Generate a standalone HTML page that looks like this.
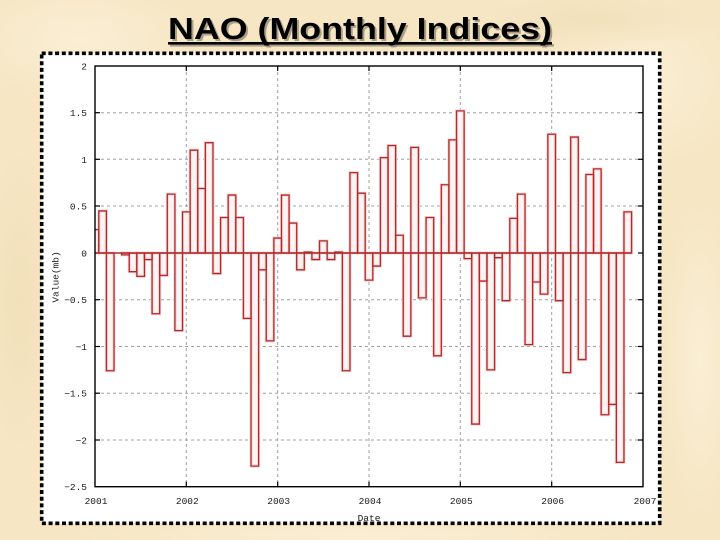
<!DOCTYPE html>
<html>
<head>
<meta charset="utf-8">
<style>
  html,body{margin:0;padding:0;}
  body{width:720px;height:540px;overflow:hidden;background:#f6e6c4;}
  svg{display:block;}
</style>
</head>
<body>
<svg width="720" height="540" viewBox="0 0 720 540" xmlns="http://www.w3.org/2000/svg" xmlns:xlink="http://www.w3.org/1999/xlink">
  <defs>
    <radialGradient id="b1" cx="0.5" cy="0.5" r="0.5">
      <stop offset="0" stop-color="#fbf0d8" stop-opacity="0.8"/>
      <stop offset="1" stop-color="#fbf0d8" stop-opacity="0"/>
    </radialGradient>
    <radialGradient id="b2" cx="0.5" cy="0.5" r="0.5">
      <stop offset="0" stop-color="#eedcb2" stop-opacity="0.6"/>
      <stop offset="1" stop-color="#eedcb2" stop-opacity="0"/>
    </radialGradient>
    <clipPath id="plotclip">
      <rect x="95" y="66" width="548" height="420.7"/>
    </clipPath>
    <g id="bars">
      <rect vector-effect="non-scaling-stroke" x="0" y="0" width="1" height="0.25"/>
      <rect vector-effect="non-scaling-stroke" x="1" y="0" width="1" height="0.45"/>
      <rect vector-effect="non-scaling-stroke" x="2" y="-1.26" width="1" height="1.26"/>
      <rect vector-effect="non-scaling-stroke" x="4" y="-0.02" width="1" height="0.02"/>
      <rect vector-effect="non-scaling-stroke" x="5" y="-0.20" width="1" height="0.20"/>
      <rect vector-effect="non-scaling-stroke" x="6" y="-0.25" width="1" height="0.25"/>
      <rect vector-effect="non-scaling-stroke" x="7" y="-0.07" width="1" height="0.07"/>
      <rect vector-effect="non-scaling-stroke" x="8" y="-0.65" width="1" height="0.65"/>
      <rect vector-effect="non-scaling-stroke" x="9" y="-0.24" width="1" height="0.24"/>
      <rect vector-effect="non-scaling-stroke" x="10" y="0" width="1" height="0.63"/>
      <rect vector-effect="non-scaling-stroke" x="11" y="-0.83" width="1" height="0.83"/>
      <rect vector-effect="non-scaling-stroke" x="12" y="0" width="1" height="0.44"/>
      <rect vector-effect="non-scaling-stroke" x="13" y="0" width="1" height="1.10"/>
      <rect vector-effect="non-scaling-stroke" x="14" y="0" width="1" height="0.69"/>
      <rect vector-effect="non-scaling-stroke" x="15" y="0" width="1" height="1.18"/>
      <rect vector-effect="non-scaling-stroke" x="16" y="-0.22" width="1" height="0.22"/>
      <rect vector-effect="non-scaling-stroke" x="17" y="0" width="1" height="0.38"/>
      <rect vector-effect="non-scaling-stroke" x="18" y="0" width="1" height="0.62"/>
      <rect vector-effect="non-scaling-stroke" x="19" y="0" width="1" height="0.38"/>
      <rect vector-effect="non-scaling-stroke" x="20" y="-0.70" width="1" height="0.70"/>
      <rect vector-effect="non-scaling-stroke" x="21" y="-2.28" width="1" height="2.28"/>
      <rect vector-effect="non-scaling-stroke" x="22" y="-0.18" width="1" height="0.18"/>
      <rect vector-effect="non-scaling-stroke" x="23" y="-0.94" width="1" height="0.94"/>
      <rect vector-effect="non-scaling-stroke" x="24" y="0" width="1" height="0.16"/>
      <rect vector-effect="non-scaling-stroke" x="25" y="0" width="1" height="0.62"/>
      <rect vector-effect="non-scaling-stroke" x="26" y="0" width="1" height="0.32"/>
      <rect vector-effect="non-scaling-stroke" x="27" y="-0.18" width="1" height="0.18"/>
      <rect vector-effect="non-scaling-stroke" x="28" y="0" width="1" height="0.01"/>
      <rect vector-effect="non-scaling-stroke" x="29" y="-0.07" width="1" height="0.07"/>
      <rect vector-effect="non-scaling-stroke" x="30" y="0" width="1" height="0.13"/>
      <rect vector-effect="non-scaling-stroke" x="31" y="-0.07" width="1" height="0.07"/>
      <rect vector-effect="non-scaling-stroke" x="32" y="0" width="1" height="0.01"/>
      <rect vector-effect="non-scaling-stroke" x="33" y="-1.26" width="1" height="1.26"/>
      <rect vector-effect="non-scaling-stroke" x="34" y="0" width="1" height="0.86"/>
      <rect vector-effect="non-scaling-stroke" x="35" y="0" width="1" height="0.64"/>
      <rect vector-effect="non-scaling-stroke" x="36" y="-0.29" width="1" height="0.29"/>
      <rect vector-effect="non-scaling-stroke" x="37" y="-0.14" width="1" height="0.14"/>
      <rect vector-effect="non-scaling-stroke" x="38" y="0" width="1" height="1.02"/>
      <rect vector-effect="non-scaling-stroke" x="39" y="0" width="1" height="1.15"/>
      <rect vector-effect="non-scaling-stroke" x="40" y="0" width="1" height="0.19"/>
      <rect vector-effect="non-scaling-stroke" x="41" y="-0.89" width="1" height="0.89"/>
      <rect vector-effect="non-scaling-stroke" x="42" y="0" width="1" height="1.13"/>
      <rect vector-effect="non-scaling-stroke" x="43" y="-0.48" width="1" height="0.48"/>
      <rect vector-effect="non-scaling-stroke" x="44" y="0" width="1" height="0.38"/>
      <rect vector-effect="non-scaling-stroke" x="45" y="-1.10" width="1" height="1.10"/>
      <rect vector-effect="non-scaling-stroke" x="46" y="0" width="1" height="0.73"/>
      <rect vector-effect="non-scaling-stroke" x="47" y="0" width="1" height="1.21"/>
      <rect vector-effect="non-scaling-stroke" x="48" y="0" width="1" height="1.52"/>
      <rect vector-effect="non-scaling-stroke" x="49" y="-0.06" width="1" height="0.06"/>
      <rect vector-effect="non-scaling-stroke" x="50" y="-1.83" width="1" height="1.83"/>
      <rect vector-effect="non-scaling-stroke" x="51" y="-0.30" width="1" height="0.30"/>
      <rect vector-effect="non-scaling-stroke" x="52" y="-1.25" width="1" height="1.25"/>
      <rect vector-effect="non-scaling-stroke" x="53" y="-0.05" width="1" height="0.05"/>
      <rect vector-effect="non-scaling-stroke" x="54" y="-0.51" width="1" height="0.51"/>
      <rect vector-effect="non-scaling-stroke" x="55" y="0" width="1" height="0.37"/>
      <rect vector-effect="non-scaling-stroke" x="56" y="0" width="1" height="0.63"/>
      <rect vector-effect="non-scaling-stroke" x="57" y="-0.98" width="1" height="0.98"/>
      <rect vector-effect="non-scaling-stroke" x="58" y="-0.31" width="1" height="0.31"/>
      <rect vector-effect="non-scaling-stroke" x="59" y="-0.44" width="1" height="0.44"/>
      <rect vector-effect="non-scaling-stroke" x="60" y="0" width="1" height="1.27"/>
      <rect vector-effect="non-scaling-stroke" x="61" y="-0.51" width="1" height="0.51"/>
      <rect vector-effect="non-scaling-stroke" x="62" y="-1.28" width="1" height="1.28"/>
      <rect vector-effect="non-scaling-stroke" x="63" y="0" width="1" height="1.24"/>
      <rect vector-effect="non-scaling-stroke" x="64" y="-1.14" width="1" height="1.14"/>
      <rect vector-effect="non-scaling-stroke" x="65" y="0" width="1" height="0.84"/>
      <rect vector-effect="non-scaling-stroke" x="66" y="0" width="1" height="0.90"/>
      <rect vector-effect="non-scaling-stroke" x="67" y="-1.73" width="1" height="1.73"/>
      <rect vector-effect="non-scaling-stroke" x="68" y="-1.62" width="1" height="1.62"/>
      <rect vector-effect="non-scaling-stroke" x="69" y="-2.24" width="1" height="2.24"/>
      <rect vector-effect="non-scaling-stroke" x="70" y="0" width="1" height="0.44"/>
    </g>
  </defs>

  <!-- parchment background -->
  <rect x="0" y="0" width="720" height="540" fill="#f6e6c4"/>
  <ellipse cx="80" cy="40" rx="120" ry="60" fill="url(#b1)"/>
  <ellipse cx="640" cy="80" rx="110" ry="90" fill="url(#b1)"/>
  <ellipse cx="20" cy="300" rx="40" ry="160" fill="url(#b2)"/>
  <ellipse cx="700" cy="360" rx="40" ry="160" fill="url(#b1)"/>
  <ellipse cx="360" cy="535" rx="300" ry="20" fill="url(#b1)"/>
  <ellipse cx="600" cy="20" rx="120" ry="30" fill="url(#b2)"/>

  <!-- title -->
  <g font-family="'Liberation Sans', Arial, sans-serif" font-weight="bold" font-size="31">
    <text x="170" y="41" textLength="384" lengthAdjust="spacingAndGlyphs" fill="#8a8070" opacity="0.7">NAO (Monthly Indices)</text>
    <rect x="170" y="44" width="384" height="2.6" fill="#8a8070" opacity="0.7"/>
    <text x="168" y="39" textLength="384" lengthAdjust="spacingAndGlyphs" fill="#000">NAO (Monthly Indices)</text>
    <rect x="168" y="42" width="384" height="2.6" fill="#000"/>
  </g>

  <!-- white frame with dotted border -->
  <rect x="41.7" y="53.3" width="618" height="470" fill="#ffffff" stroke="#000" stroke-width="3.6" stroke-dasharray="4 2.7"/>

  <!-- grid -->
  <g stroke="#a0a0a0" stroke-width="1" stroke-dasharray="3 3" fill="none">
    <line x1="95" y1="112.7" x2="643" y2="112.7"/>
    <line x1="95" y1="159.3" x2="643" y2="159.3"/>
    <line x1="95" y1="206.0" x2="643" y2="206.0"/>
    <line x1="95" y1="299.7" x2="643" y2="299.7"/>
    <line x1="95" y1="346.5" x2="643" y2="346.5"/>
    <line x1="95" y1="393.2" x2="643" y2="393.2"/>
    <line x1="95" y1="440.0" x2="643" y2="440.0"/>
    <line x1="186.3" y1="66" x2="186.3" y2="486.7"/>
    <line x1="277.7" y1="66" x2="277.7" y2="486.7"/>
    <line x1="369.0" y1="66" x2="369.0" y2="486.7"/>
    <line x1="460.3" y1="66" x2="460.3" y2="486.7"/>
    <line x1="551.7" y1="66" x2="551.7" y2="486.7"/>
  </g>

  <!-- bars -->
  <g clip-path="url(#plotclip)">
    <g transform="translate(91.194 253) scale(7.6111 -93.48)">
      <use xlink:href="#bars" href="#bars" fill="#fff3f3" stroke="#f6d4d4" stroke-width="3"/>
      <use xlink:href="#bars" href="#bars" fill="none" stroke="#b02a2a" stroke-width="1.3"/>
    </g>
    <line x1="95" y1="253" x2="631.6" y2="253" stroke="#b02a2a" stroke-width="1.4"/>
  </g>

  <!-- plot border -->
  <rect x="95" y="66" width="548" height="420.7" fill="none" stroke="#000" stroke-width="1.4"/>

  <!-- ticks -->
  <g stroke="#000" stroke-width="1.2">
    <line x1="95" y1="112.7" x2="100" y2="112.7"/><line x1="638" y1="112.7" x2="643" y2="112.7"/>
    <line x1="95" y1="159.3" x2="100" y2="159.3"/><line x1="638" y1="159.3" x2="643" y2="159.3"/>
    <line x1="95" y1="206.0" x2="100" y2="206.0"/><line x1="638" y1="206.0" x2="643" y2="206.0"/>
    <line x1="638" y1="253" x2="643" y2="253"/>
    <line x1="95" y1="299.7" x2="100" y2="299.7"/><line x1="638" y1="299.7" x2="643" y2="299.7"/>
    <line x1="95" y1="346.5" x2="100" y2="346.5"/><line x1="638" y1="346.5" x2="643" y2="346.5"/>
    <line x1="95" y1="393.2" x2="100" y2="393.2"/><line x1="638" y1="393.2" x2="643" y2="393.2"/>
    <line x1="95" y1="440.0" x2="100" y2="440.0"/><line x1="638" y1="440.0" x2="643" y2="440.0"/>
    <line x1="186.3" y1="66" x2="186.3" y2="71"/><line x1="186.3" y1="481.7" x2="186.3" y2="486.7"/>
    <line x1="277.7" y1="66" x2="277.7" y2="71"/><line x1="277.7" y1="481.7" x2="277.7" y2="486.7"/>
    <line x1="369.0" y1="66" x2="369.0" y2="71"/><line x1="369.0" y1="481.7" x2="369.0" y2="486.7"/>
    <line x1="460.3" y1="66" x2="460.3" y2="71"/><line x1="460.3" y1="481.7" x2="460.3" y2="486.7"/>
    <line x1="551.7" y1="66" x2="551.7" y2="71"/><line x1="551.7" y1="481.7" x2="551.7" y2="486.7"/>
  </g>

  <!-- tick labels -->
  <g font-family="'Liberation Mono', 'DejaVu Sans Mono', monospace" font-size="9.5" fill="#1a1a1a">
    <g text-anchor="end">
      <text x="87" y="69.5">2</text>
      <text x="87" y="116.2">1.5</text>
      <text x="87" y="162.8">1</text>
      <text x="87" y="209.5">0.5</text>
      <text x="87" y="256.5">0</text>
      <text x="87" y="303.2">−0.5</text>
      <text x="87" y="350">−1</text>
      <text x="87" y="396.7">−1.5</text>
      <text x="87" y="443.5">−2</text>
      <text x="87" y="490.2">−2.5</text>
    </g>
    <g text-anchor="middle">
      <text x="96" y="504">2001</text>
      <text x="187.3" y="504">2002</text>
      <text x="278.7" y="504">2003</text>
      <text x="370" y="504">2004</text>
      <text x="461.3" y="504">2005</text>
      <text x="552.7" y="504">2006</text>
      <text x="645" y="504">2007</text>
      <text x="369" y="521">Date</text>
      <text transform="translate(58.5 277) rotate(-90)" x="0" y="0">Value(mb)</text>
    </g>
  </g>
</svg>
</body>
</html>
